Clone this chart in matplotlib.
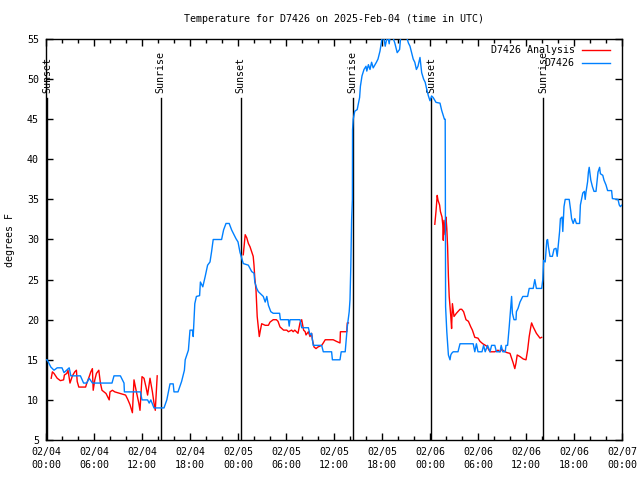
import matplotlib
matplotlib.use('Agg')
import matplotlib.pyplot as plt
import numpy as np

# hours since 2025-02-04 00:00 UTC
obs_hours = [0.0, 0.15, 0.6, 1.0, 1.4, 2.0, 2.25, 2.9, 3.1, 4.3, 4.7, 5.1, 5.4, 5.8, 8.25, 8.5, 9.3,
             9.75, 9.8, 11.8, 12.0, 12.7, 12.9, 13.1, 13.5, 14.75, 15.1, 15.5, 15.9, 16.0, 16.5, 16.95,
             17.3, 17.4, 17.8, 18.0, 18.3, 18.4, 18.6, 18.8, 19.2, 19.3, 19.6, 19.9, 20.2, 20.5, 20.7,
             20.9, 21.95, 22.2, 22.5, 22.9, 23.2, 23.4, 23.75, 24.0, 24.25, 24.66, 25.29, 25.71, 26.0,
             26.1, 26.34, 26.54, 27.16, 27.4, 27.6, 27.8, 28.1, 28.4, 29.2, 29.3, 30.3, 30.4, 30.5,
             31.75, 31.96, 32.8, 33.0, 33.2, 33.4, 34.46, 34.66, 35.7, 35.8, 36.75, 36.9, 37.4, 37.66,
             37.9, 38.0, 38.1, 38.2, 38.3, 38.32, 38.4, 38.6, 38.9, 39.2, 39.3, 39.5, 39.75, 40.0, 40.1,
             40.3, 40.5, 40.7, 40.9, 41.3, 41.5, 41.75, 41.96, 42.1, 42.4, 42.7, 42.9, 43.1, 43.6, 43.9,
             44.2, 44.4, 45.0, 45.3, 45.5, 45.7, 45.9, 46.1, 46.3, 46.5, 46.75, 46.96, 47.2, 47.4, 47.6,
             47.8, 48.0, 48.2, 48.4, 48.75, 49.25, 49.46, 49.8, 49.9, 49.95, 50.1, 50.3, 50.5, 50.6,
             50.7, 50.9, 51.5, 51.75, 53.4, 53.6, 53.8, 54.0, 54.5, 54.7, 54.9, 55.2, 55.5, 55.7, 56.1,
             56.3, 56.75, 56.9, 57.1, 57.4, 57.5, 57.7, 57.8, 57.9, 58.1, 58.2, 58.3, 58.5, 58.75, 58.8,
             59.0, 59.25, 59.6, 60.2, 60.4, 60.9, 61.1, 61.3, 61.96, 62.1, 62.2, 62.4, 62.6, 62.7, 62.8,
             63.0, 63.3, 63.5, 63.75, 63.9, 64.0, 64.2, 64.3, 64.5, 64.6, 64.75, 64.9, 65.4, 65.6, 65.7,
             65.9, 66.1, 66.3, 66.7, 66.8, 67.1, 67.3, 67.4, 67.5, 67.7, 67.8, 67.9, 68.1, 68.3, 68.5,
             68.75, 68.9, 69.0, 69.2, 69.3, 69.6, 69.75, 70.0, 70.2, 70.7, 70.8, 71.5, 71.66, 71.8, 72.0]
obs_temp = [15.0, 15.0, 14.1, 13.7, 14.0, 14.0, 13.4, 14.0, 13.0, 13.0, 12.1, 12.1, 12.7, 12.1, 12.1, 13.0, 13.0,
            12.1, 11.0, 11.0, 10.0, 10.0, 9.6, 10.0, 9.0, 9.0, 10.0, 12.0, 12.0, 11.0, 11.0, 12.3,
            13.7, 15.0, 16.2, 18.7, 18.7, 17.9, 22.0, 22.9, 23.0, 24.7, 24.1, 25.4, 26.8, 27.2, 28.5,
            30.0, 30.0, 31.2, 32.0, 32.0, 31.2, 30.8, 30.1, 29.7, 28.4, 27.0, 26.8, 26.0, 25.8,
            24.7, 23.9, 23.5, 22.9, 22.2, 22.9, 21.8, 21.0, 20.8, 20.8, 20.0, 20.0, 19.2, 20.0,
            20.0, 19.0, 19.0, 18.1, 18.3, 16.8, 16.8, 16.0, 16.0, 15.0, 15.0, 16.0, 16.0, 19.1,
            21.0, 22.5, 26.6, 32.4, 35.0, 43.7, 45.0, 46.0, 46.2, 47.7, 49.1, 50.4, 51.2, 51.6, 51.0,
            51.8, 51.2, 52.1, 51.4, 52.1, 52.5, 53.5, 54.8, 56.0, 54.1, 55.5, 54.4, 56.0, 54.5, 53.3,
            53.7, 56.0, 55.5, 54.5, 54.1, 53.3, 52.5, 52.1, 51.2, 51.6, 52.7, 50.8, 50.0, 49.6, 48.7,
            47.9, 47.3, 47.9, 47.7, 47.1, 47.0, 46.1, 45.0, 45.0, 21.6, 18.5, 15.6, 15.0, 15.6,
            15.8, 16.0, 16.0, 17.0, 17.0, 16.0, 17.0, 16.0, 16.0, 16.8, 16.0, 16.8, 16.0, 16.8, 16.8,
            16.0, 16.0, 16.8, 16.0, 16.0, 16.8, 16.8, 17.9, 19.1, 21.6, 22.9, 20.8, 20.0, 20.0, 21.0,
            21.4, 22.2, 22.9, 22.9, 23.9, 23.9, 25.0, 23.9, 23.9, 25.0, 27.4, 27.2, 29.9, 30.0, 29.1,
            27.9, 27.9, 28.8, 28.9, 27.9, 28.9, 31.0, 32.6, 32.8, 31.0, 34.1, 35.0, 35.0, 33.5, 32.6,
            32.0, 32.6, 32.0, 32.0, 34.3, 35.8, 36.0, 35.0, 35.9, 37.2, 38.4, 39.0, 37.4, 36.6, 36.0,
            36.0, 37.4, 38.4, 39.0, 38.2, 38.0, 37.4, 36.8, 36.1, 36.1, 35.1, 35.0, 34.3, 34.1, 34.3]

# analysis series, NaN marks gaps
ana_hours = [0.65, 0.8, 1.0, 1.4, 1.8, 2.2, 2.3, 2.6, 2.75, 3.0, 3.3, 3.6, 3.8, 3.9, 4.1, 4.95, 5.1,
             5.4, 5.6, 5.8, 5.9, 6.1, 6.3, 6.6, 6.8, 7.0, 7.5, 7.9, 8.0, 8.3, 8.6, 9.3, 9.95, 10.2, 10.5,
             10.8, 11.0, 11.3, 11.6, 11.75, 12.0, 12.25, 12.5, 12.7, 13.0, 13.3, 13.5, 13.66, 13.8, 13.9,
             np.nan,
             24.66, 24.9, 25.1, 25.3, 25.5, 25.7, 25.9, 26.0, 26.1, 26.25, 26.4, 26.66, 26.8, 26.96,
             27.4, 27.8, 28.0, 28.4, 28.8, 29.0, 29.25, 29.7, 30.1, 30.3, 30.7, 30.9, 31.1, 31.5, 31.75,
             31.96, 32.2, 32.4, 32.5, 32.8, 33.0, 33.2, 33.3, 33.5, 33.75, 34.0, 34.46, 34.66, 34.9,
             35.9, 36.3, 36.75, 36.8, 37.6, 37.66, 37.8,
             np.nan,
             48.6, 48.75, 48.9, 49.0, 49.2, 49.3, 49.5, 49.6, 49.66, 49.75, 49.9, 50.0, 50.1, 50.2, 50.3,
             50.4, 50.6, 50.7, 50.8, 51.0, 51.3, 51.75, 51.96, 52.2, 52.5, 52.8, 53.1, 53.3, 53.6, 54.0,
             54.25, 54.6, 55.1, 55.5, 56.1, 56.5, 56.75, 56.96, 57.4, 57.6, 58.0, 58.2, 58.4, 58.6,
             58.75, 58.9, 59.25, 59.66, 60.0, 60.2, 60.4, 60.6, 60.7, 60.9, 61.3, 61.75, 61.96]
ana_temp = [12.7, 13.5, 13.3, 12.7, 12.4, 12.5, 13.1, 13.3, 13.7, 12.1, 13.0, 13.5, 13.7, 12.3, 11.6, 11.6, 12.1,
            12.9, 13.5, 13.9, 11.2, 12.5, 13.3, 13.7, 12.1, 11.2, 10.8, 10.0, 11.0, 11.2, 11.0, 10.8, 10.6, 10.1, 9.4,
            8.4, 12.5, 11.0, 9.6, 8.7, 12.9, 12.7, 11.6, 10.6, 12.7, 11.0, 9.6, 8.7, 11.2, 13.0,
            np.nan,
            28.1, 30.6, 30.2, 29.5, 29.1, 28.5, 27.9, 26.8, 25.2, 23.7, 20.4, 17.9, 18.7, 19.5,
            19.3, 19.3, 19.7, 20.0, 20.0, 19.8, 19.1, 18.7, 18.7, 18.5, 18.7, 18.5, 18.7, 18.3, 19.6,
            20.0, 18.7, 18.5, 18.1, 18.5, 17.9, 18.3, 17.5, 16.6, 16.4, 16.6, 16.8, 17.1, 17.5,
            17.5, 17.3, 17.1, 18.5, 18.5, 19.6, 19.6,
            np.nan,
            31.9, 33.5, 35.5, 34.9, 34.3, 33.5, 32.8, 31.8, 29.9, 32.4, 30.6, 32.8, 31.4, 29.1, 25.4,
            22.9, 20.4, 18.9, 22.0, 20.4, 20.8, 21.3, 21.3, 21.0, 20.0, 19.8, 19.1, 18.7, 17.8, 17.7,
            17.3, 17.0, 16.7, 16.0, 16.0, 16.2, 16.0, 16.3, 16.0, 15.9, 15.8, 15.2, 14.6, 13.9,
            14.6, 15.6, 15.4, 15.1, 15.0, 16.2, 17.9, 19.1, 19.6, 19.1, 18.3, 17.7, 17.8]

sun_hours = [0.16, 14.34, 24.34, 38.34, 48.16, 62.16]
sun_labels = ['Sunset', 'Sunrise', 'Sunset', 'Sunrise', 'Sunset', 'Sunrise']

xtick_hours = list(range(0, 73, 6))
xtick_labels = ['02/04\n00:00', '02/04\n06:00', '02/04\n12:00', '02/04\n18:00',
                '02/05\n00:00', '02/05\n06:00', '02/05\n12:00', '02/05\n18:00',
                '02/06\n00:00', '02/06\n06:00', '02/06\n12:00', '02/06\n18:00',
                '02/07\n00:00']

font = 'DejaVu Sans Mono'
fs = 7.2
red = '#ff0000'
blue = '#0080ff'

fig = plt.figure(figsize=(6.4, 4.8), dpi=100)
ax = fig.add_axes([46/640, 40/480, 576/640, 401/480])

# sunrise / sunset markers
for h, lab in zip(sun_hours, sun_labels):
    ax.plot([h, h], [5, 47.6], color='black', lw=1.0, zorder=1)
    ax.text(h, 48.3, lab, rotation=90, ha='center', va='bottom',
            family=font, fontsize=fs, zorder=1)

ax.plot(ana_hours, ana_temp, color=red, lw=1.0, zorder=2)
ax.plot(obs_hours, obs_temp, color=blue, lw=1.0, zorder=3)

ax.set_xlim(0, 72)
ax.set_ylim(5, 55)
ax.set_xticks(xtick_hours)
ax.set_xticklabels(xtick_labels, family=font, fontsize=fs, linespacing=1.35)
ax.set_xticks(list(range(0, 73, 2)), minor=True)
ax.set_yticks(range(5, 56, 5))
ax.set_yticklabels([str(v) for v in range(5, 56, 5)], family=font, fontsize=fs)
ax.tick_params(which='both', direction='in', top=True, right=True, width=1.0)
ax.tick_params(which='major', length=5, pad=5)
ax.tick_params(which='minor', length=3)
for s in ax.spines.values():
    s.set_linewidth(1.0)

# legend drawn gnuplot-style: right-justified text, sample on the right
ax.text(0.918, 0.9726, 'D7426 Analysis', transform=ax.transAxes, ha='right', va='center',
        family=font, fontsize=fs)
ax.plot([0.930, 0.979], [0.9726, 0.9726], transform=ax.transAxes, color=red, lw=1.0)
ax.text(0.918, 0.940, 'D7426', transform=ax.transAxes, ha='right', va='center',
        family=font, fontsize=fs)
ax.plot([0.930, 0.979], [0.940, 0.940], transform=ax.transAxes, color=blue, lw=1.0)

fig.text(334/640, 1 - 19/480, 'Temperature for D7426 on 2025-Feb-04 (time in UTC)',
         ha='center', va='center', family=font, fontsize=fs)
fig.text(10/640, 0.5, 'degrees F', rotation=90, ha='center', va='center',
         family=font, fontsize=fs)

fig.savefig('out.png', dpi=100)
